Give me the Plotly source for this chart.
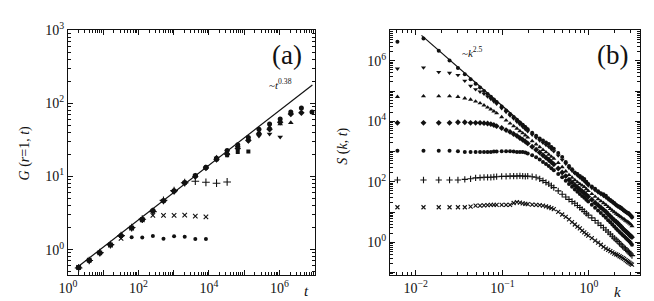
import plotly.graph_objects as go

# ---------------- Panel (a): G(r=1,t) vs t ----------------
t_vals = [2, 4, 8, 16, 32, 64, 128, 256, 512, 1024, 2048, 4096, 8192, 16384,
          32768, 65536, 131072, 262144, 524288, 1048576, 2097152, 4194304, 8388608]

G_dot = [0.57, 0.71, 0.90, 1.16, 1.52, 1.47, 1.46, 1.53, 1.41, 1.52, 1.50, 1.40, 1.40]
G_x = [0.57, 0.72, 0.90, 1.15, 1.42, 1.96, 2.55, 2.94, 2.94, 2.93, 2.95, 2.86, 2.80]
G_plus = [0.56, 0.71, 0.91, 1.17, 1.55, 2.00, 2.60, 3.30, 4.70, 6.40, 8.2, 8.6, 8.3, 8.07, 8.4]
G_square = [0.57, 0.72, 0.90, 1.17, 1.56, 1.99, 2.60, 3.42, 4.66, 6.35, 8.25, 10.3, 13.3,
            17.2, 19.5, 21.5, 21.8]
G_tdown = [0.57, 0.71, 0.90, 1.16, 1.55, 1.98, 2.58, 3.40, 4.66, 6.33, 8.2, 10.2, 13.2,
           17.8, 22.0, 25.0, 30.5, 35.5, 38.0, 34.6]
G_tup = [0.58, 0.72, 0.91, 1.17, 1.57, 2.00, 2.62, 3.45, 4.72, 6.40, 8.3, 10.4, 13.5,
         18.3, 21.0, 26.0, 32.0, 40.0, 47.0, 52.0, 54.0]
G_diamond = [0.57, 0.71, 0.90, 1.16, 1.55, 1.97, 2.56, 3.38, 4.62, 6.28, 8.1, 10.0, 13.0,
             17.0, 20.0, 24.0, 31.0, 38.0, 44.0, 55.0, 71.0, 74.0]
G_circle = [0.57, 0.71, 0.90, 1.16, 1.55, 1.98, 2.58, 3.40, 4.66, 6.33, 8.2, 10.2, 13.2,
            17.5, 22.5, 27.0, 34.0, 44.0, 52.0, 61.0, 76.0, 86.0, 76.0]

fit_a_t = [1.72, 8.6e6]
fit_a_G = [0.56, 177.0]

# ---------------- Panel (b): S(k,t) vs k ----------------
k_vals = [0.006136, 0.01227, 0.01841, 0.02454, 0.03068, 0.03682, 0.04295, 0.04909,
          0.05522, 0.06136, 0.06750, 0.07363, 0.07977, 0.08590, 0.09817, 0.1104,
          0.1227, 0.1350, 0.1473, 0.1595, 0.1718, 0.1841, 0.1963, 0.2209, 0.2454,
          0.2700, 0.2945, 0.3191, 0.3436, 0.3682, 0.3927, 0.4418, 0.4909, 0.5400,
          0.5890, 0.6381, 0.6872, 0.7363, 0.7854, 0.8345, 0.8836, 0.9327, 0.9817,
          1.080, 1.178, 1.276, 1.374, 1.473, 1.571, 1.669, 1.767, 1.865, 1.963,
          2.062, 2.160, 2.258, 2.356, 2.454, 2.553, 2.651, 2.749, 2.847, 2.945,
          3.043, 3.142]

log10_S_circle = [6.63, 6.74, 6.33, 6.01, 5.76, 5.56, 5.39, 5.24, 5.12, 5.00, 4.90, 4.81,
                  4.72, 4.64, 4.49, 4.36, 4.24, 4.14, 4.05, 3.96, 3.89, 3.81, 3.74, 3.62,
                  3.52, 3.43, 3.37, 3.30, 3.25, 3.15, 3.09, 2.95, 2.82, 2.66, 2.52, 2.42,
                  2.31, 2.26, 2.19, 2.14, 2.09, 2.00, 1.93, 1.85, 1.77, 1.69, 1.62, 1.59,
                  1.54, 1.46, 1.40, 1.35, 1.30, 1.24, 1.20, 1.18, 1.14, 1.09, 1.05, 1.02,
                  0.99, 0.97, 0.93, 0.89, 0.84]
log10_S_tdown = [5.74, 5.78, 5.63, 5.60, 5.53, 5.34, 5.17, 5.06, 4.98, 4.91, 4.82, 4.74,
                 4.66, 4.58, 4.43, 4.31, 4.19, 4.09, 3.99, 3.90, 3.82, 3.74, 3.67, 3.56,
                 3.46, 3.37, 3.29, 3.22, 3.16, 3.08, 3.01, 2.87, 2.73, 2.60, 2.46, 2.37,
                 2.28, 2.21, 2.14, 2.08, 2.02, 1.95, 1.88, 1.80, 1.72, 1.65, 1.59, 1.53,
                 1.48, 1.42, 1.37, 1.32, 1.27, 1.22, 1.18, 1.14, 1.11, 1.07, 1.03, 1.00,
                 0.97, 0.94, 0.90, 0.86, 0.81]
log10_S_tup = [4.81, 4.83, 4.83, 4.83, 4.81, 4.76, 4.72, 4.66, 4.60, 4.53, 4.46, 4.40,
               4.33, 4.27, 4.14, 4.03, 3.93, 3.84, 3.76, 3.68, 3.61, 3.54, 3.47, 3.35,
               3.24, 3.15, 3.06, 2.98, 2.90, 2.83, 2.77, 2.63, 2.49, 2.35, 2.23, 2.14,
               2.06, 1.99, 1.93, 1.88, 1.83, 1.76, 1.70, 1.60, 1.51, 1.43, 1.36, 1.30,
               1.24, 1.17, 1.11, 1.05, 1.00, 0.95, 0.91, 0.87, 0.83, 0.79, 0.76, 0.72,
               0.69, 0.66, 0.63, 0.59, 0.54]
log10_S_diamond = [3.95, 3.95, 3.95, 3.95, 3.97, 3.97, 3.95, 3.95, 3.95, 3.94, 3.93, 3.91,
                   3.88, 3.84, 3.78, 3.71, 3.65, 3.58, 3.52, 3.45, 3.39, 3.33, 3.27, 3.16,
                   3.06, 2.97, 2.88, 2.80, 2.73, 2.65, 2.58, 2.44, 2.31, 2.19, 2.07, 1.98,
                   1.89, 1.82, 1.75, 1.69, 1.63, 1.57, 1.51, 1.41, 1.31, 1.23, 1.15, 1.08,
                   1.01, 0.93, 0.86, 0.79, 0.73, 0.68, 0.63, 0.57, 0.52, 0.46, 0.41, 0.37,
                   0.33, 0.29, 0.24, 0.21, 0.17]
log10_S_dot = [3.03, 3.03, 3.03, 3.03, 3.01, 2.99, 2.99, 2.99, 2.99, 2.99, 2.99, 2.99,
               3.00, 3.00, 3.01, 3.01, 3.01, 3.00, 2.99, 2.99, 2.99, 2.97, 2.94, 2.88,
               2.81, 2.74, 2.66, 2.59, 2.52, 2.45, 2.38, 2.26, 2.15, 2.04, 1.93, 1.84,
               1.75, 1.67, 1.60, 1.53, 1.47, 1.41, 1.35, 1.24, 1.14, 1.05, 0.97, 0.89,
               0.81, 0.73, 0.66, 0.59, 0.52, 0.46, 0.40, 0.34, 0.29, 0.24, 0.20, 0.15,
               0.11, 0.07, 0.03, -0.02, -0.08]
log10_S_plus = [2.06, 2.06, 2.06, 2.06, 2.06, 2.08, 2.10, 2.13, 2.14, 2.15, 2.15, 2.15,
                2.16, 2.17, 2.18, 2.18, 2.19, 2.19, 2.19, 2.20, 2.19, 2.18, 2.19, 2.17,
                2.15, 2.10, 2.04, 1.98, 1.93, 1.87, 1.81, 1.70, 1.59, 1.50, 1.42, 1.35,
                1.29, 1.22, 1.15, 1.09, 1.02, 0.96, 0.90, 0.81, 0.72, 0.64, 0.56, 0.48,
                0.41, 0.34, 0.27, 0.20, 0.14, 0.08, 0.03, -0.03, -0.08, -0.13, -0.18, -0.22,
                -0.26, -0.30, -0.35, -0.39, -0.44]
log10_S_x = [1.16, 1.16, 1.16, 1.16, 1.16, 1.16, 1.18, 1.21, 1.21, 1.22, 1.23, 1.24,
             1.24, 1.24, 1.24, 1.24, 1.24, 1.30, 1.33, 1.31, 1.29, 1.27, 1.26, 1.25,
             1.24, 1.23, 1.21, 1.19, 1.16, 1.13, 1.10, 1.01, 0.92, 0.84, 0.76, 0.67,
             0.59, 0.52, 0.46, 0.39, 0.33, 0.27, 0.22, 0.14, 0.06, -0.01, -0.08, -0.15,
             -0.21, -0.25, -0.29, -0.33, -0.37, -0.40, -0.42, -0.46, -0.49, -0.52, -0.55, -0.59,
             -0.62, -0.65, -0.68, -0.71, -0.74]

fit_b_k = [0.01164, 0.2]
fit_b_S = [6.97e6, 5.69e3]

# ---------------- figure ----------------
W, H = 654, 301
ML, MR, MT, MB = 60, 22, 15, 34
PW, PH = W - ML - MR, H - MT - MB
INK = "#111111"
SERIF = "Liberation Serif"


def px(x):
    return (x - ML) / PW


def py(y):
    return (H - MB - y) / PH


fig = go.Figure()


def add_pts(x, y, symbol, size, xa, ya, thin=False):
    marker = dict(symbol=symbol, size=size, color=INK)
    if thin:
        marker["line"] = dict(color=INK, width=1.1)
    else:
        marker["line"] = dict(width=0)
    fig.add_trace(go.Scatter(x=x, y=y, mode="markers", marker=marker,
                             xaxis=xa, yaxis=ya, showlegend=False, hoverinfo="skip"))


# panel a
fig.add_trace(go.Scatter(x=fit_a_t, y=fit_a_G, mode="lines", line=dict(color=INK, width=1.2),
                         xaxis="x", yaxis="y", showlegend=False, hoverinfo="skip"))
add_pts(t_vals[:len(G_dot)], G_dot, "circle", 4, "x", "y")
add_pts(t_vals[:len(G_x)], G_x, "x-thin", 4.5, "x", "y", thin=True)
add_pts(t_vals[:len(G_plus)], G_plus, "cross-thin", 5.5, "x", "y", thin=True)
add_pts(t_vals[:len(G_square)], G_square, "square", 4, "x", "y")
add_pts(t_vals[:len(G_tdown)], G_tdown, "triangle-down", 5, "x", "y")
add_pts(t_vals[:len(G_tup)], G_tup, "triangle-up", 5, "x", "y")
add_pts(t_vals[:len(G_diamond)], G_diamond, "diamond", 5, "x", "y")
add_pts(t_vals[:len(G_circle)], G_circle, "circle", 5, "x", "y")

# panel b
fig.add_trace(go.Scatter(x=fit_b_k, y=fit_b_S, mode="lines", line=dict(color=INK, width=1.2),
                         xaxis="x2", yaxis="y2", showlegend=False, hoverinfo="skip"))
for vals, sym, sz, thin in [
    (log10_S_circle, "circle", 4, False),
    (log10_S_tdown, "triangle-down", 4.5, False),
    (log10_S_tup, "triangle-up", 4.5, False),
    (log10_S_diamond, "diamond", 4.5, False),
    (log10_S_dot, "circle", 4, False),
    (log10_S_plus, "cross-thin", 4.5, True),
    (log10_S_x, "x-thin", 4, True),
]:
    add_pts(k_vals, [10 ** v for v in vals], sym, sz, "x2", "y2", thin=thin)


def log_ticks(lo, hi, labeled):
    vals, text = [], []
    for e in range(lo, hi + 1):
        vals.append(10.0 ** e)
        if e in labeled:
            s = str(e).replace("-", "\u2212")
            text.append(f"10<sup>{s}</sup>")
        else:
            text.append(" ")
    minor = [m * 10.0 ** e for e in range(lo - 1, hi + 1) for m in range(2, 10)]
    return vals, text, minor


def axis(rng, lo, hi, labeled, domain, anchor):
    vals, text, minor = log_ticks(lo, hi, labeled)
    return dict(type="log", range=rng, domain=domain, anchor=anchor,
                showline=True, linecolor=INK, linewidth=1.3, mirror="ticks",
                ticks="inside", ticklen=5, tickwidth=1, tickcolor=INK,
                tickmode="array", tickvals=vals, ticktext=text,
                showgrid=False, zeroline=False,
                tickfont=dict(family=SERIF, size=14, color=INK),
                minor=dict(ticks="inside", ticklen=2.5, tickwidth=0.8, tickcolor=INK,
                           tickmode="array", tickvals=minor, showgrid=False))


da = [0, px(306.7)]
db = [px(382), 1.0]

fig.update_layout(
    width=W, height=H, margin=dict(l=ML, r=MR, t=MT, b=MB),
    paper_bgcolor="white", plot_bgcolor="white", showlegend=False,
    xaxis=axis([0, 7], 0, 7, [0, 2, 4, 6], da, "y"),
    yaxis=axis([-0.347, 3], 0, 3, [0, 1, 2, 3], [0, 1], "x"),
    xaxis2=axis([-2.298, 0.59], -2, 0, [-2, -1, 0], db, "y2"),
    yaxis2=axis([-1.08, 7.02], -1, 7, [0, 2, 4, 6], [0, 1], "x2"),
)

ann = [
    dict(text="(a)", x=px(279), y=py(41), size=27, xanchor="center"),
    dict(text="(b)", x=px(604), y=py(41), size=27, xanchor="center"),
    dict(text="~<i>t</i><sup>0.38</sup>", x=px(259), y=py(71), size=11, xanchor="left"),
    dict(text="~<i>k</i><sup>2.5</sup>", x=px(452), y=py(38), size=11, xanchor="left"),
    dict(text="<i>t</i>", x=px(298), y=py(283), size=15, xanchor="center"),
    dict(text="<i>k</i>", x=px(609), y=py(284), size=15, xanchor="center"),
]
for a in ann:
    fig.add_annotation(text=a["text"], x=a["x"], y=a["y"], xref="paper", yref="paper",
                       xanchor=a["xanchor"], yanchor="middle", showarrow=False,
                       font=dict(family=SERIF, size=a["size"], color=INK))

fig.add_annotation(text="<i>G</i> (<i>r</i>=1, <i>t</i>)", x=px(17), y=py(142),
                   xref="paper", yref="paper", textangle=-90, showarrow=False,
                   xanchor="center", yanchor="middle",
                   font=dict(family=SERIF, size=14, color=INK))
fig.add_annotation(text="<i>S</i> (<i>k</i>, <i>t</i>)", x=px(335), y=py(135),
                   xref="paper", yref="paper", textangle=-90, showarrow=False,
                   xanchor="center", yanchor="middle",
                   font=dict(family=SERIF, size=14, color=INK))

fig.write_html("out.html")
